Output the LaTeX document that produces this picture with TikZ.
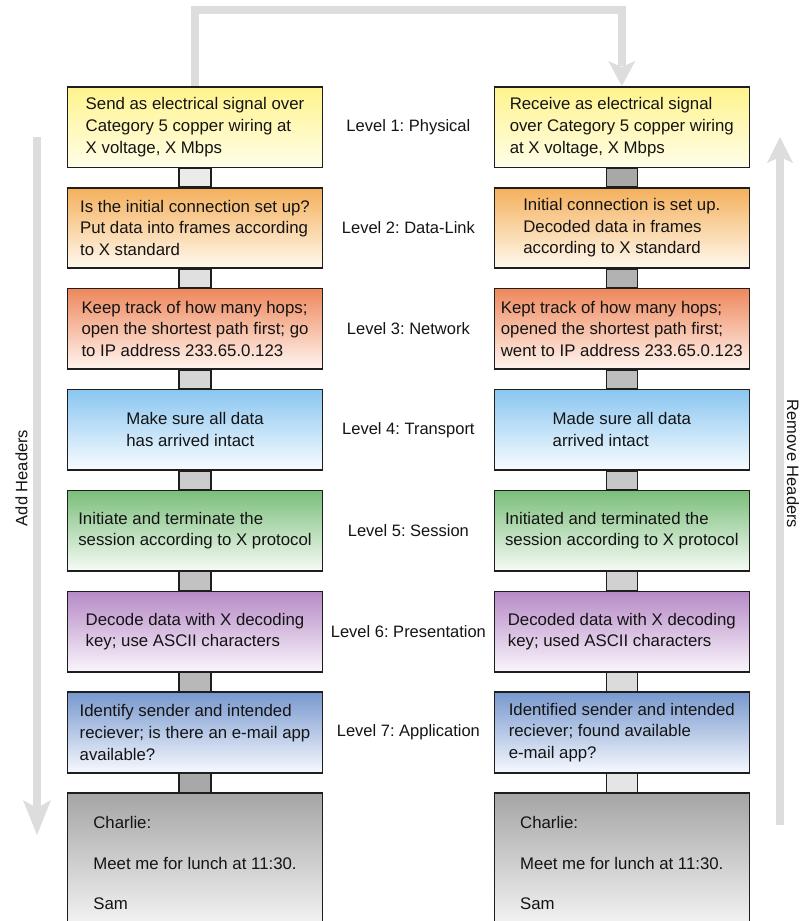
\documentclass[tikz,border=0pt]{standalone}
\usepackage{fontspec}
\setmainfont{Liberation Sans}
\usetikzlibrary{calc}
\frenchspacing
\definecolor{arrowgray}{RGB}{221,221,221}
\definecolor{frame}{RGB}{30,30,30}
\definecolor{ytop}{RGB}{255,243,140}\definecolor{ybot}{RGB}{255,254,232}
\definecolor{otop}{RGB}{244,176,92}\definecolor{obot}{RGB}{255,249,238}
\definecolor{rtop}{RGB}{238,136,92}\definecolor{rbot}{RGB}{255,245,240}
\definecolor{btop}{RGB}{138,198,240}\definecolor{bbot}{RGB}{248,252,255}
\definecolor{gtop}{RGB}{122,190,122}\definecolor{gbot}{RGB}{246,251,246}
\definecolor{ptop}{RGB}{182,138,198}\definecolor{pbot}{RGB}{250,245,252}
\definecolor{stop}{RGB}{120,152,206}\definecolor{sbot}{RGB}{246,249,254}
\definecolor{ktop}{RGB}{165,165,165}\definecolor{kbot}{RGB}{248,248,248}
\tikzset{
  box/.style={draw=frame, line width=1.6pt, minimum width=255pt, minimum height=80.5pt,
    inner sep=0pt, anchor=north west, align=left,
    font=\fontsize{16.8}{21.7}\selectfont\frenchspacing, text=black!92},
  lastbox/.style={box, minimum height=140pt},
  lvl/.style={font=\fontsize{16.5}{19}\selectfont\frenchspacing, text=black!92, inner sep=0pt},
  link/.style={draw=frame, line width=1.4pt},
  bigline/.style={draw=arrowgray, line width=8pt},
  bighead/.style={fill=arrowgray, draw=none}
}
\begin{document}
\begin{tikzpicture}[x=1pt,y=-1pt]
\useasboundingbox (0,0) rectangle (802,921);
\clip (0,0) rectangle (802,921);
% ---------- left column
\node[box, top color=ytop, bottom color=ybot] (L1) at (66.7,86) {Send as electrical signal over\\Category 5 copper wiring at\\X voltage, X Mbps};
\node[box, top color=otop, bottom color=obot] (L2) at (66.7,186.9) {Is the initial connection set up?\\Put data into frames according\\to X standard};
\node[box, top color=rtop, bottom color=rbot] (L3) at (66.7,287.8) {Keep track of how many hops;\\open the shortest path first; go\\to IP address 233.65.0.123};
\node[box, top color=btop, bottom color=bbot] (L4) at (66.7,388.7) {Make sure all data\\has arrived intact};
\node[box, top color=gtop, bottom color=gbot] (L5) at (66.7,489.6) {Initiate and terminate the\\session according to X protocol};
\node[box, top color=ptop, bottom color=pbot] (L6) at (66.7,590.5) {Decode data with X decoding\\key; use ASCII characters};
\node[box, top color=stop, bottom color=sbot] (L7) at (66.7,691.4) {Identify sender and intended\\reciever; is there an e-mail app\\available?};
\node[lastbox, top color=ktop, bottom color=kbot] (L8) at (66.7,792.3) {Charlie:\\[19pt]Meet me for lunch at 11:30.\\[19pt]Sam};
% ---------- right column
\node[box, top color=ytop, bottom color=ybot] (R1) at (493.5,86) {Receive as electrical signal\\over Category 5 copper wiring\\at X voltage, X Mbps};
\node[box, top color=otop, bottom color=obot] (R2) at (493.5,186.9) {Initial connection is set up.\\Decoded data in frames\\according to X standard};
\node[box, top color=rtop, bottom color=rbot] (R3) at (493.5,287.8) {Kept track of how many hops;\\opened the shortest path first;\\went to IP address 233.65.0.123};
\node[box, top color=btop, bottom color=bbot] (R4) at (493.5,388.7) {Made sure all data\\arrived intact};
\node[box, top color=gtop, bottom color=gbot] (R5) at (493.5,489.6) {Initiated and terminated the\\session according to X protocol};
\node[box, top color=ptop, bottom color=pbot] (R6) at (493.5,590.5) {Decoded data with X decoding\\key; used ASCII characters};
\node[box, top color=stop, bottom color=sbot] (R7) at (493.5,691.4) {Identified sender and intended\\reciever; found available\\e-mail app?};
\node[lastbox, top color=ktop, bottom color=kbot] (R8) at (493.5,792.3) {Charlie:\\[19pt]Meet me for lunch at 11:30.\\[19pt]Sam};
% ---------- connectors between boxes
\foreach \a/\b/\lg/\rg in {1/2/92/66,2/3/88/70,3/4/84/74,4/5/80/78,5/6/76/82,6/7/72/86,7/8/66/90}{
  \draw[link, fill=white!\lg!black] ([xshift=-16pt]L\a.south) rectangle ([xshift=16pt]L\b.north);
  \draw[link, fill=white!\rg!black] ([xshift=-15.5pt]R\a.south) rectangle ([xshift=15.5pt]R\b.north);
}
% ---------- level labels
\foreach \i/\t in {1/{Level 1: Physical},2/{Level 2: Data-Link},3/{Level 3: Network},4/{Level 4: Transport},5/{Level 5: Session},6/{Level 6: Presentation},7/{Level 7: Application}}{
  \node[lvl] (lev\i) at ($(L\i.east)!0.5!(R\i.west)$) {\t};
}
% ---------- top loop arrow
\coordinate (loopL) at ($(L1.north)+(0,-76)$);
\coordinate (loopR) at ($(R1.north)+(0,-76)$);
\coordinate (loopEnd) at ($(R1.north)+(0,-20)$);
\draw[bigline, line join=miter] (L1.north) -- (loopL) -- (loopR) -- (loopEnd);
\fill[bighead] ($(R1.north)+(-13.5,-25)$) -- (R1.north) -- ($(R1.north)+(13.5,-25)$) -- ($(R1.north)+(0,-19)$) -- cycle;
% ---------- side arrows
\coordinate (addTop) at (37,137);
\coordinate (addTip) at (37,835);
\draw[bigline] (addTop) -- ($(addTip)+(0,-27)$);
\fill[bighead] ($(addTip)+(-14,-35)$) -- (addTip) -- ($(addTip)+(14,-35)$) -- ($(addTip)+(0,-27)$) -- cycle;
\coordinate (remBot) at (780,825);
\coordinate (remTip) at (780,137);
\draw[bigline] (remBot) -- ($(remTip)+(0,20)$);
\fill[bighead] ($(remTip)+(-13,26)$) -- (remTip) -- ($(remTip)+(13,26)$) -- ($(remTip)+(0,20)$) -- cycle;
\node[lvl, rotate=90] (addh) at (21.5,478) {Add Headers};
\node[lvl, rotate=-90] (remh) at (793,464) {Remove Headers};
\end{tikzpicture}
\end{document}
